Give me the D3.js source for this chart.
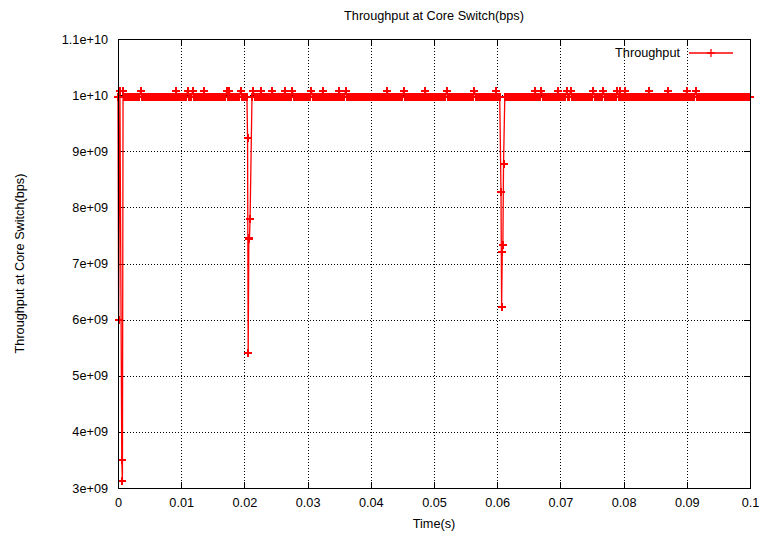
<!DOCTYPE html>
<html>
<head>
<meta charset="utf-8">
<script src="https://cdn.jsdelivr.net/npm/d3@7"></script>
<style>
  body { margin: 0; background: #fff; }
  #chart { width: 761px; height: 537px; }
  text { font-family: "Liberation Sans", Arial, Helvetica, sans-serif; font-size: 12.7px; fill: #000; }
</style>
</head>
<body>
<div id="chart"></div>
<script>
// throughput samples, in units of 1e9 bps
var SAMPLE_STEP = 0.0002;

var dip1Times  = [0.0000, 0.0001, 0.0003, 0.0006, 0.0007, 0.0008];
var dip1Values = [9.96, 6.00, 10.08, 3.50, 3.12, 10.08];

var band1Start = 0.0010;
var band1Values = [
  9.96,9.96,9.96,9.96,9.96,9.96,9.96,9.96,9.96,9.96,
  9.96,9.96,9.96,10.08,9.96,9.96,9.96,9.96,9.96,9.96,
  9.96,9.96,9.96,9.96,9.96,9.96,9.96,9.96,9.96,9.96,
  9.96,9.96,9.96,9.96,9.96,9.96,9.96,9.96,9.96,9.96,
  9.96,10.08,9.96,9.96,9.96,9.96,9.96,9.96,9.96,9.96,
  10.08,9.96,9.96,9.96,10.08,9.96,9.96,9.96,9.96,9.96,
  9.96,9.96,9.96,10.08,9.96,9.96,9.96,9.96,9.96,9.96,
  9.96,9.96,9.96,9.96,9.96,9.96,9.96,9.96,9.96,9.96,
  9.96,10.08,9.96,10.08,9.96,9.96,9.96,9.96,9.96,9.96,
  9.96,9.96,10.08,9.96,9.96,9.96,9.96,9.96
];

var dip2Times  = [0.0205, 0.0206, 0.0207, 0.0208, 0.0209];
var dip2Values = [9.24, 5.40, 7.43, 7.45, 7.80];

var band2Start = 0.0212;
var band2Values = [
  9.96,10.08,9.96,9.96,9.96,9.96,9.96,10.08,9.96,9.96,
  9.96,9.96,9.96,9.96,9.96,9.96,10.08,9.96,9.96,9.96,
  9.96,9.96,9.96,9.96,9.96,9.96,10.08,9.96,9.96,9.96,
  9.96,9.96,10.08,9.96,9.96,9.96,9.96,9.96,9.96,9.96,
  9.96,9.96,9.96,9.96,9.96,9.96,9.96,10.08,9.96,9.96,
  9.96,9.96,9.96,9.96,9.96,9.96,10.08,9.96,9.96,9.96,
  9.96,9.96,9.96,9.96,9.96,9.96,9.96,9.96,9.96,10.08,
  9.96,9.96,9.96,9.96,10.08,9.96,9.96,9.96,9.96,9.96,
  9.96,9.96,9.96,9.96,9.96,9.96,9.96,9.96,9.96,9.96,
  9.96,9.96,9.96,9.96,9.96,9.96,9.96,9.96,9.96,9.96,
  9.96,9.96,9.96,9.96,9.96,9.96,9.96,10.08,9.96,9.96,
  9.96,9.96,9.96,9.96,9.96,9.96,9.96,9.96,9.96,9.96,
  10.08,9.96,9.96,9.96,9.96,9.96,9.96,9.96,9.96,9.96,
  9.96,9.96,9.96,9.96,9.96,9.96,9.96,10.08,9.96,9.96,
  9.96,9.96,9.96,9.96,9.96,9.96,9.96,9.96,9.96,9.96,
  9.96,9.96,9.96,9.96,10.08,9.96,9.96,9.96,9.96,9.96,
  9.96,9.96,9.96,9.96,9.96,9.96,9.96,9.96,9.96,9.96,
  9.96,9.96,9.96,9.96,9.96,9.96,10.08,9.96,9.96,9.96,
  9.96,9.96,9.96,9.96,9.96,9.96,9.96,9.96,9.96,9.96,
  9.96,9.96,9.96,10.08,9.96,9.96,9.96
];

var dip3Times  = [0.0606, 0.0607, 0.0608, 0.0609, 0.0610];
var dip3Values = [8.28, 6.23, 7.20, 7.33, 8.77];

var band3Start = 0.0612;
var band3Values = [
  9.96,9.96,9.96,9.96,9.96,9.96,9.96,9.96,9.96,9.96,
  9.96,9.96,9.96,9.96,9.96,9.96,9.96,9.96,9.96,9.96,
  9.96,9.96,9.96,9.96,10.08,9.96,9.96,9.96,9.96,10.08,
  9.96,9.96,9.96,9.96,9.96,9.96,9.96,9.96,9.96,9.96,
  9.96,9.96,10.08,9.96,9.96,9.96,9.96,9.96,9.96,10.08,
  9.96,9.96,10.08,9.96,9.96,9.96,9.96,9.96,9.96,9.96,
  9.96,9.96,9.96,9.96,9.96,9.96,9.96,9.96,9.96,9.96,
  10.08,9.96,9.96,9.96,9.96,9.96,9.96,9.96,10.08,9.96,
  9.96,9.96,9.96,9.96,9.96,9.96,9.96,9.96,9.96,10.08,
  9.96,10.08,9.96,9.96,9.96,10.08,9.96,9.96,9.96,9.96,
  9.96,9.96,9.96,9.96,9.96,9.96,9.96,9.96,9.96,9.96,
  9.96,9.96,9.96,9.96,10.08,9.96,9.96,9.96,9.96,9.96,
  9.96,9.96,9.96,9.96,9.96,9.96,9.96,9.96,9.96,10.08,
  9.96,9.96,9.96,9.96,9.96,9.96,9.96,9.96,9.96,9.96,
  9.96,9.96,9.96,9.96,10.08,9.96,9.96,9.96,9.96,9.96,
  9.96,10.08,9.96,9.96,9.96,9.96,9.96,9.96,9.96,9.96,
  9.96,9.96,9.96,9.96,9.96,9.96,9.96,9.96,9.96,9.96,
  9.96,9.96,9.96,9.96,9.96,9.96,9.96,9.96,9.96,9.96,
  9.96,9.96,9.96,9.96,9.96,9.96,9.96,9.96,9.96,9.96,
  9.96,9.96,9.96,9.96,9.96
];

var xTickValues = [0, 0.01, 0.02, 0.03, 0.04, 0.05, 0.06, 0.07, 0.08, 0.09, 0.1];
var xTickLabels = ["0", "0.01", "0.02", "0.03", "0.04", "0.05", "0.06", "0.07", "0.08", "0.09", "0.1"];
var yTickValues = [3e9, 4e9, 5e9, 6e9, 7e9, 8e9, 9e9, 1e10, 1.1e10];
var yTickLabels = ["3e+09", "4e+09", "5e+09", "6e+09", "7e+09", "8e+09", "9e+09", "1e+10", "1.1e+10"];

var seriesName = "Throughput";
var chartTitle = "Throughput at Core Switch(bps)";
var xTitle = "Time(s)";
var yTitle = "Throughput at Core Switch(bps)";

function collectPoints() {
  var pts = [];
  function addExplicit(times, values) {
    times.forEach(function(t, i) { pts.push({ t: t, v: values[i] * 1e9 }); });
  }
  function addSampled(start, values) {
    values.forEach(function(v, i) { pts.push({ t: start + i * SAMPLE_STEP, v: v * 1e9 }); });
  }
  addExplicit(dip1Times, dip1Values);
  addSampled(band1Start, band1Values);
  addExplicit(dip2Times, dip2Values);
  addSampled(band2Start, band2Values);
  addExplicit(dip3Times, dip3Values);
  addSampled(band3Start, band3Values);
  pts.sort(function(a, b) { return a.t - b.t; });
  return pts;
}

function ThroughputChart(element, width, height) {
  var _chart = {};

  var _margins = { top: 39, right: 11, bottom: 49, left: 118 },
    _width = width || 761,
    _height = height || 537,
    _tick = 6,
    _plus = 4,
    _penWidth = 1.3,
    _markWidth = 2,
    _color = "#ff0000",
    _svg,
    _data;

  var _x = d3.scaleLinear().domain([0, 0.1]),
    _y = d3.scaleLinear().domain([3e9, 1.1e10]);

  _chart.data = function(data) {
    if (!arguments.length) { return _data; }
    _data = data;
    return _chart;
  };

  _chart.render = function() {
    _x.range([xStart(), xEnd()]);
    _y.range([yStart(), yEnd()]);

    _svg = d3.select(element).append("svg")
      .attr("width", _width)
      .attr("height", _height)
      .attr("viewBox", "0 0 " + _width + " " + _height);

    _svg.append("rect")
      .attr("width", _width).attr("height", _height).attr("fill", "#fff");

    renderGrid();
    renderAxes();
    renderSeries();
    renderBorder();
    renderLabels();
    renderLegend();
    return _chart;
  };

  function renderGrid() {
    var g = _svg.append("g").attr("class", "grid")
      .attr("stroke", "#000")
      .attr("stroke-width", 1)
      .attr("stroke-dasharray", "1,2")
      .attr("shape-rendering", "crispEdges");

    g.selectAll("line.gx")
      .data(xTickValues.slice(1, -1))
      .enter().append("line")
      .attr("class", "gx")
      .attr("x1", function(d) { return Math.round(_x(d)) + 0.5; })
      .attr("x2", function(d) { return Math.round(_x(d)) + 0.5; })
      .attr("y1", yEnd())
      .attr("y2", yStart());

    g.selectAll("line.gy")
      .data(yTickValues.slice(1, -1))
      .enter().append("line")
      .attr("class", "gy")
      .attr("x1", xStart())
      .attr("x2", xEnd())
      .attr("y1", function(d) { return Math.round(_y(d)) + 0.5; })
      .attr("y2", function(d) { return Math.round(_y(d)) + 0.5; });
  }

  function renderAxes() {
    var bottom = d3.axisBottom(_x)
      .tickValues(xTickValues)
      .tickFormat(function(d, i) { return xTickLabels[i]; })
      .tickSizeInner(-_tick).tickSizeOuter(0).tickPadding(10);
    var left = d3.axisLeft(_y)
      .tickValues(yTickValues)
      .tickFormat(function(d, i) { return yTickLabels[i]; })
      .tickSizeInner(-_tick).tickSizeOuter(0).tickPadding(10);
    var top = d3.axisTop(_x).tickValues(xTickValues).tickFormat("")
      .tickSizeInner(-_tick).tickSizeOuter(0);
    var right = d3.axisRight(_y).tickValues(yTickValues).tickFormat("")
      .tickSizeInner(-_tick).tickSizeOuter(0);

    var axes = [
      { axis: bottom, tr: "translate(0," + yStart() + ")" },
      { axis: left, tr: "translate(" + xStart() + ",0)" },
      { axis: top, tr: "translate(0," + yEnd() + ")" },
      { axis: right, tr: "translate(" + xEnd() + ",0)" }
    ];
    axes.forEach(function(a) {
      var g = _svg.append("g").attr("transform", a.tr).call(a.axis);
      g.select(".domain").remove();
      g.selectAll(".tick line").attr("stroke", "#000").attr("shape-rendering", "crispEdges");
      g.selectAll(".tick text")
        .attr("font-family", "'Liberation Sans', Arial, Helvetica, sans-serif")
        .attr("font-size", "12.7px")
        .attr("fill", "#000");
    });
  }

  function renderSeries() {
    var line = d3.line()
      .x(function(d) { return _x(d.t); })
      .y(function(d) { return _y(d.v); });

    _svg.append("path")
      .datum(_data)
      .attr("fill", "none")
      .attr("stroke", _color)
      .attr("stroke-width", _penWidth)
      .attr("d", line);

    // markers are drawn on whole pixels so the dense run reads as a solid band
    _svg.append("g").attr("class", "points")
      .attr("shape-rendering", "crispEdges")
      .selectAll("path")
      .data(_data)
      .enter().append("path")
      .attr("transform", function(d) { return "translate(" + _x(d.t) + "," + _y(d.v) + ")"; })
      .attr("d", plusPath())
      .attr("stroke", _color)
      .attr("stroke-width", _markWidth)
      .attr("fill", "none");
  }

  function plusPath() {
    return "M" + (-_plus) + ",0H" + _plus + "M0," + (-_plus) + "V" + _plus;
  }

  function renderBorder() {
    _svg.append("rect")
      .attr("x", xStart() + 0.5)
      .attr("y", yEnd() + 0.5)
      .attr("width", xEnd() - xStart())
      .attr("height", yStart() - yEnd())
      .attr("fill", "none")
      .attr("stroke", "#000")
      .attr("stroke-width", 1)
      .attr("shape-rendering", "crispEdges");
  }

  function renderLabels() {
    var mid = (xStart() + xEnd()) / 2;
    _svg.append("text")
      .attr("x", mid).attr("y", 20)
      .attr("text-anchor", "middle")
      .text(chartTitle);

    _svg.append("text")
      .attr("x", mid).attr("y", 528)
      .attr("text-anchor", "middle")
      .text(xTitle);

    _svg.append("text")
      .attr("transform", "translate(24," + (yStart() + yEnd()) / 2 + ") rotate(-90)")
      .attr("text-anchor", "middle")
      .text(yTitle);
  }

  function renderLegend() {
    var ly = 53;
    var lg = _svg.append("g").attr("class", "legend");
    lg.append("text")
      .attr("x", 680).attr("y", ly)
      .attr("dy", "0.35em")
      .attr("text-anchor", "end")
      .text(seriesName);
    lg.append("line")
      .attr("x1", 689).attr("x2", 733)
      .attr("y1", ly).attr("y2", ly)
      .attr("stroke", _color).attr("stroke-width", _penWidth);
    lg.append("path")
      .attr("transform", "translate(711," + ly + ")")
      .attr("d", plusPath())
      .attr("stroke", _color).attr("stroke-width", _penWidth).attr("fill", "none");
  }

  function xStart() { return _margins.left; }
  function xEnd() { return _width - _margins.right; }
  function yStart() { return _height - _margins.bottom; }
  function yEnd() { return _margins.top; }

  return _chart;
}

ThroughputChart("#chart", 761, 537)
  .data(collectPoints())
  .render();
</script>
</body>
</html>
